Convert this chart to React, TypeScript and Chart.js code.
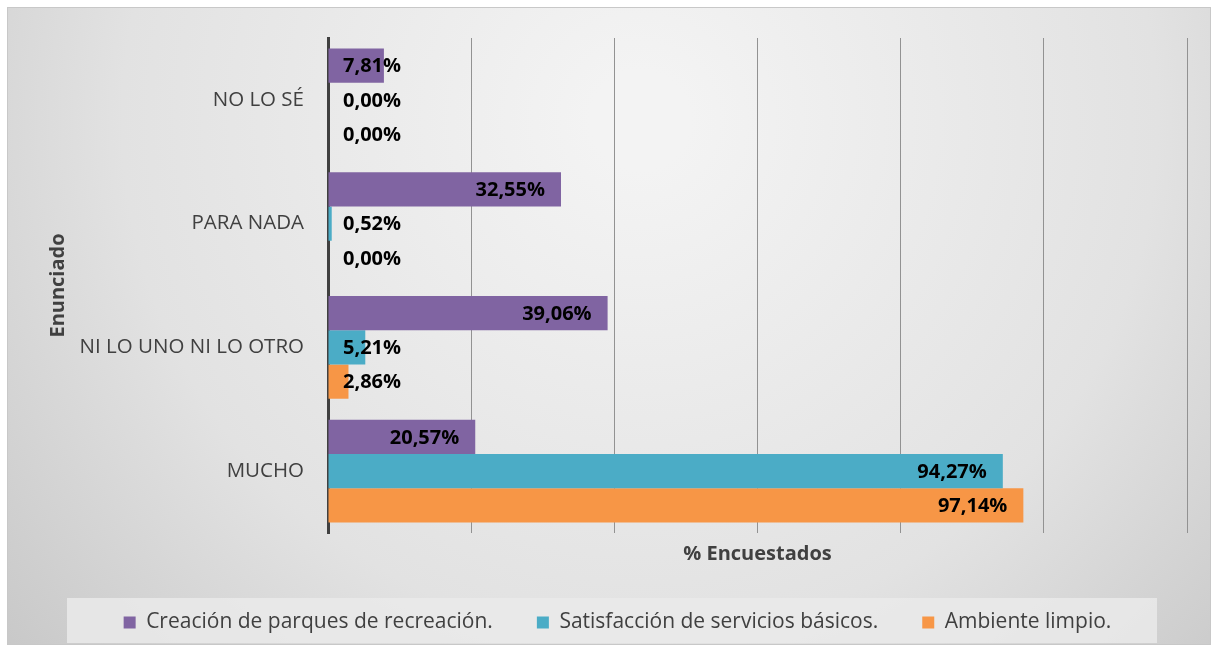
import React, { useEffect, useRef } from "react";
import { Chart, registerables } from "chart.js";

Chart.register(...registerables);

const categories = ["NO LO SÉ", "PARA NADA", "NI LO UNO NI LO OTRO", "MUCHO"];
const seriesNames = [
  "Creación de parques de recreación.",
  "Satisfacción de servicios básicos.",
  "Ambiente limpio.",
];
const parques = [7.81, 32.55, 39.06, 20.57];
const servicios = [0.0, 0.52, 5.21, 94.27];
const ambiente = [0.0, 0.0, 2.86, 97.14];
const colors = ["#8064a2", "#4bacc6", "#f79646"];
const xMax = 120;
const xStep = 20;
const yTitle = "Enunciado";
const xTitle = "% Encuestados";

const FONT = "'Open Sans', sans-serif";
const TEXT = "#404040";

const bgPlugin = {
  id: "bgPlugin",
  beforeDraw(chart: any) {
    const { ctx, width, height } = chart;
    ctx.save();
    ctx.fillStyle = "#ffffff";
    ctx.fillRect(0, 0, width, height);
    const g = ctx.createRadialGradient(640, 120, 50, 640, 120, 900);
    g.addColorStop(0, "#f3f3f3");
    g.addColorStop(0.55, "#e2e2e2");
    g.addColorStop(1, "#c2c2c2");
    ctx.fillStyle = g;
    ctx.fillRect(7, 7, width - 14, height - 15);
    ctx.strokeStyle = "#c8c8c8";
    ctx.lineWidth = 1;
    ctx.strokeRect(7.5, 7.5, width - 15, height - 16);
    ctx.fillStyle = "rgba(234,234,234,0.85)";
    ctx.fillRect(67, 598, 1090, 45);
    ctx.restore();
  },
};

const labelPlugin = {
  id: "labelPlugin",
  afterDatasetsDraw(chart: any) {
    const { ctx } = chart;
    const left = chart.chartArea.left;
    ctx.save();
    ctx.font = `bold 20px ${FONT}`;
    ctx.fillStyle = "#000000";
    ctx.textBaseline = "middle";
    ctx.textAlign = "left";
    chart.data.datasets.forEach((ds: any, di: number) => {
      const meta = chart.getDatasetMeta(di);
      meta.data.forEach((el: any, i: number) => {
        const v = ds.data[i] as number;
        const txt = v.toFixed(2).replace(".", ",") + "%";
        const w = ctx.measureText(txt).width;
        const x = Math.max(el.x - 16 - w, left + 15);
        ctx.fillText(txt, x, el.y + 1);
      });
    });
    ctx.restore();
  },
};

export default function App() {
  const ref = useRef<HTMLCanvasElement>(null);
  useEffect(() => {
    if (!ref.current) return;
    const chart = new Chart(ref.current, {
      type: "bar",
      data: {
        labels: categories,
        datasets: [
          { label: seriesNames[0], data: parques, backgroundColor: colors[0] },
          { label: seriesNames[1], data: servicios, backgroundColor: colors[1] },
          { label: seriesNames[2], data: ambiente, backgroundColor: colors[2] },
        ],
      },
      options: {
        indexAxis: "y",
        animation: false,
        responsive: false,
        maintainAspectRatio: false,
        layout: { padding: { left: 48, right: 31, top: 38, bottom: 10 } },
        datasets: {
          bar: { categoryPercentage: 0.83, barPercentage: 1.0 },
        },
        scales: {
          x: {
            min: 0,
            max: xMax,
            ticks: { display: false, stepSize: xStep },
            grid: { color: "#929292", lineWidth: 1, drawTicks: false },
            border: { display: false },
            title: {
              display: true,
              text: xTitle,
              color: TEXT,
              font: { family: FONT, size: 20, weight: "bold" },
              padding: { top: 9, bottom: 2 },
            },
          },
          y: {
            afterFit(scale: any) {
              scale.width = 280;
            },
            ticks: {
              color: TEXT,
              font: { family: FONT, size: 20.5 },
              padding: 24,
            },
            grid: { display: false, drawTicks: false },
            border: { display: true, color: "#404040", width: 3 },
            title: {
              display: true,
              text: yTitle,
              color: TEXT,
              font: { family: FONT, size: 20, weight: "bold" },
              padding: { top: -2, bottom: 0 },
            },
          },
        },
        plugins: {
          legend: {
            position: "bottom",
            labels: {
              color: TEXT,
              font: { family: FONT, size: 21 },
              boxWidth: 12,
              boxHeight: 12,
              padding: 44,
            },
          },
          tooltip: { enabled: false },
        },
      },
      plugins: [bgPlugin, labelPlugin],
    });
    return () => chart.destroy();
  }, []);
  return (
    <div style={{ position: "absolute", left: 0, top: 0, width: 1218, height: 653 }}>
      <canvas ref={ref} width={1218} height={653} style={{ width: 1218, height: 653, display: "block" }} />
    </div>
  );
}
